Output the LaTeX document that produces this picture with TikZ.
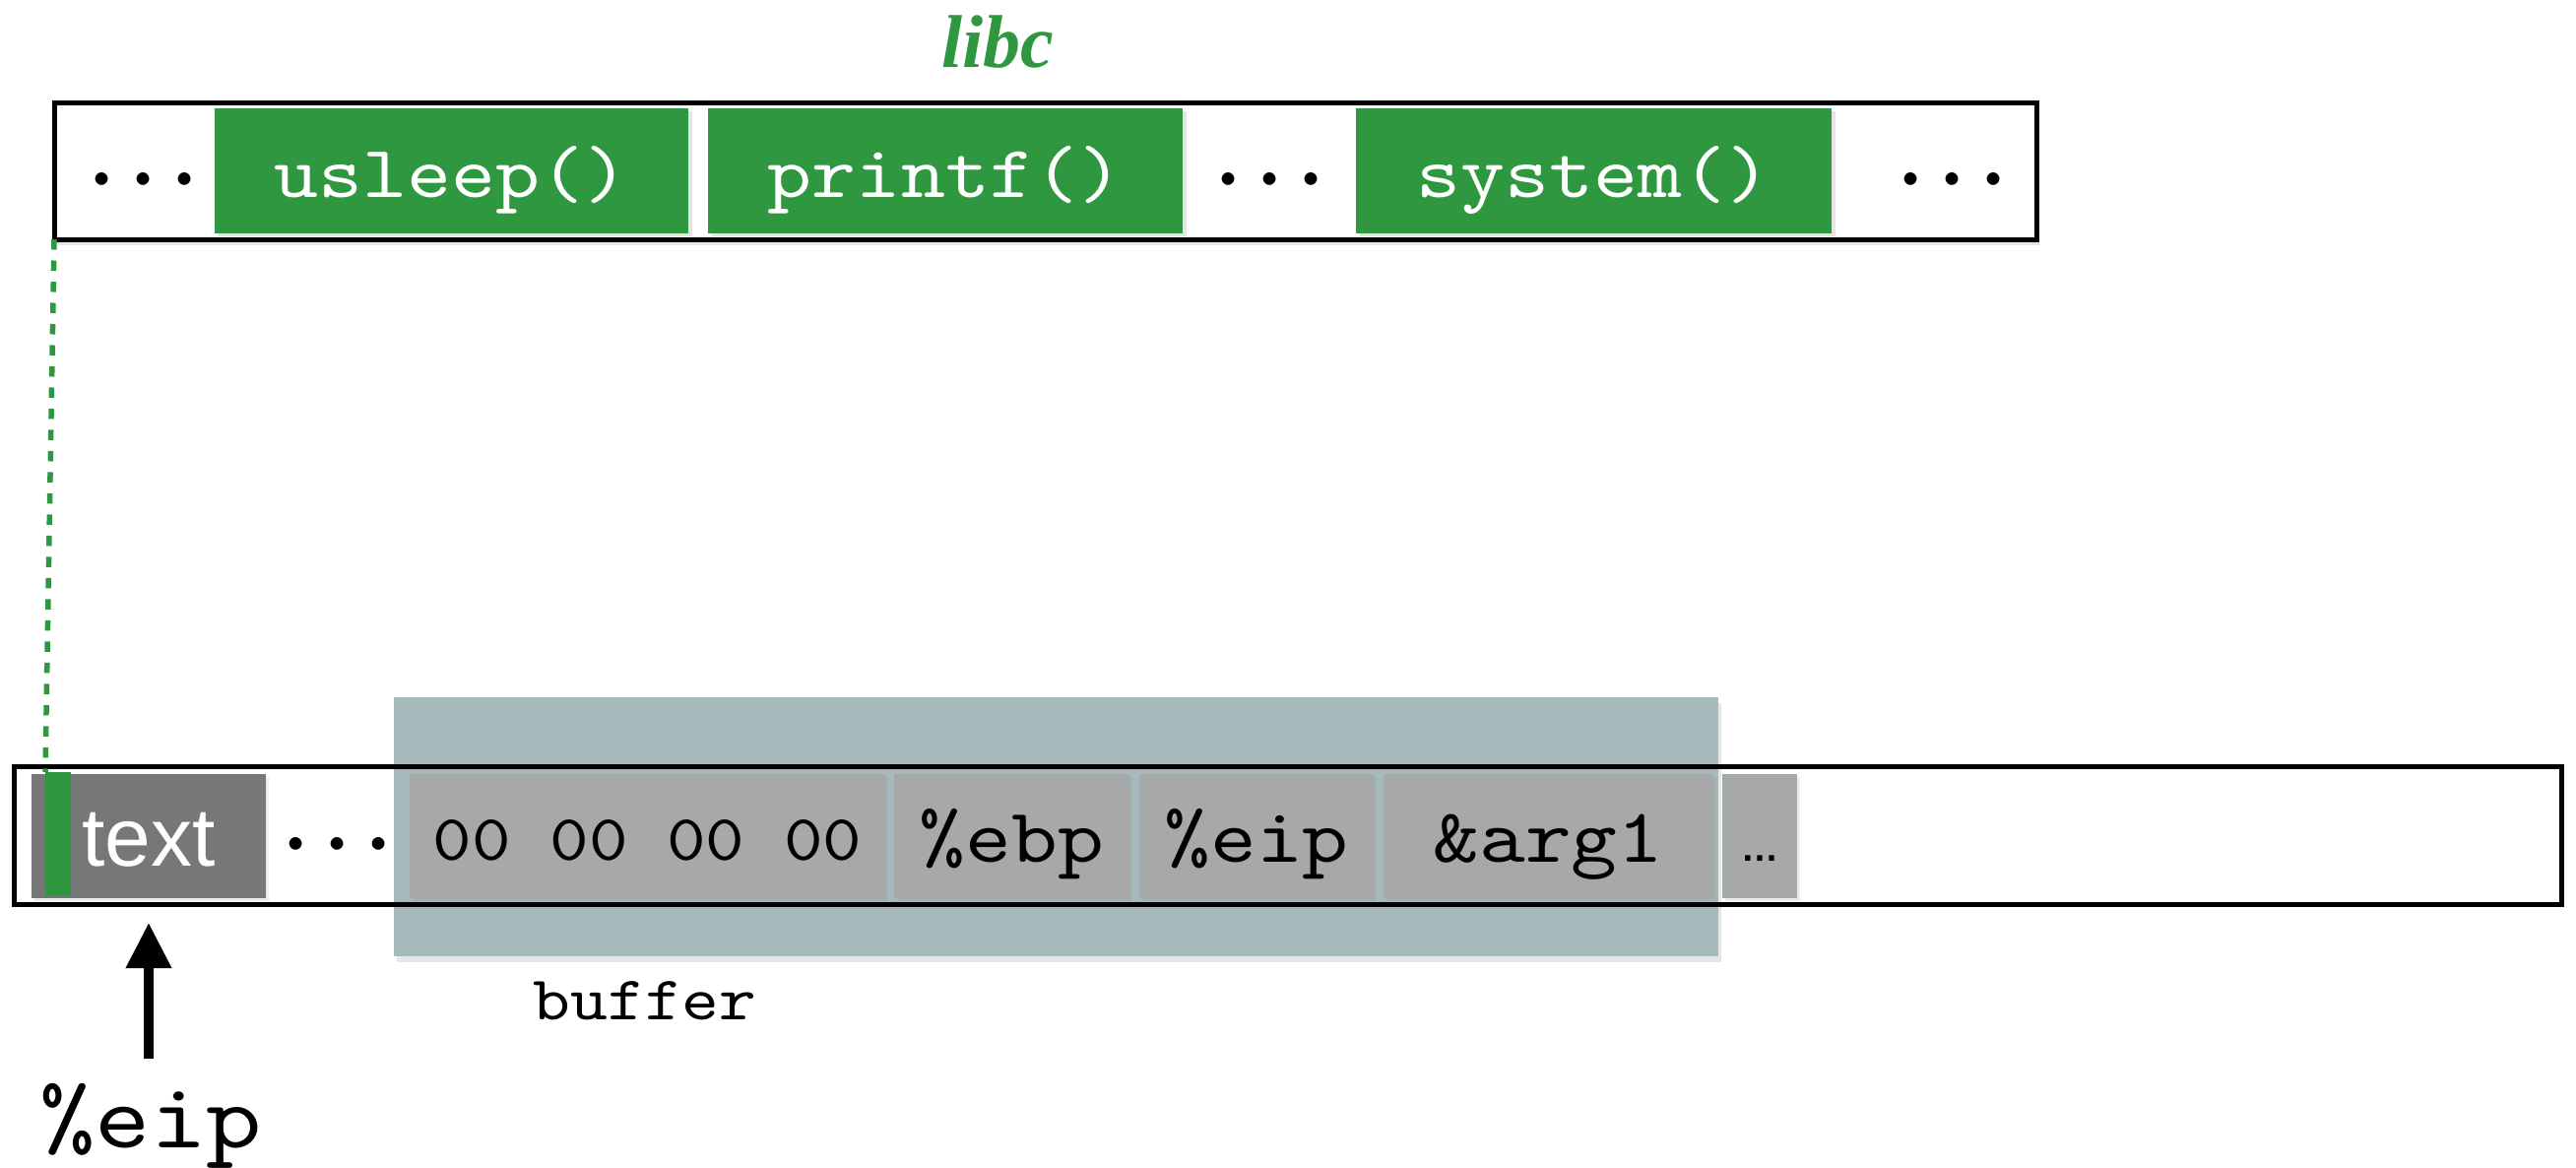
\documentclass[tikz,border=0pt]{standalone}
\usepackage{fontspec}
\usepackage{graphicx}
\setmainfont{Liberation Serif}
\newfontfamily\monof{lmmono10-regular.otf}[FakeStretch=1.143]
\newfontfamily\sansf{Liberation Sans}
\usetikzlibrary{arrows.meta,shadows}
\definecolor{libgreen}{RGB}{47,151,64}
\definecolor{tealbg}{RGB}{166,185,187}
\definecolor{darkcell}{RGB}{118,119,118}
\definecolor{lightcell}{RGB}{167,169,168}
\newcommand{\bigdots}{\scalebox{3.3}{\fontsize{25}{25}\selectfont\boldmath$\cdots$}}
\begin{document}
\begin{tikzpicture}[x=1pt,y=-1pt,
  box/.style={draw=black,line width=5pt,inner sep=0pt,outer sep=0pt},
  fcell/.style={fill=libgreen,text=white,inner sep=0pt,outer sep=0pt,
    minimum height=127pt,text height=53pt,text depth=0pt,
    font=\monof\fontsize{75}{75}\selectfont,
    drop shadow={opacity=0.2,shadow xshift=4pt,shadow yshift=-3pt}},
  scell/.style={fill=lightcell,inner sep=0pt,outer sep=0pt,
    minimum height=126pt,text height=52pt,text depth=0pt,
    font=\monof\fontsize{78}{78}\selectfont,
    drop shadow={opacity=0.15,shadow xshift=3pt,shadow yshift=-3pt}},
  dotsl/.style={anchor=base,inner sep=0pt},
  dashlink/.style={draw=libgreen,line width=5.5pt,dash pattern=on 10.5pt off 11pt},
  ptr/.style={draw=black,line width=10pt,-{Triangle[width=44pt,length=46pt]}}
]
\useasboundingbox (0,0) rectangle (2616,1186);

% ---- libc strip ----
\node[anchor=base,text=libgreen,inner sep=0pt,
  font=\fontsize{76}{76}\selectfont\bfseries\itshape] (libc) at (1013,68) {libc};
\node[box,fill=white,minimum width=2013pt,minimum height=139pt,
  drop shadow={opacity=0.2,shadow xshift=3pt,shadow yshift=-6pt}] (topbox) at (1061.5,173.5) {};
\node[dotsl] (tdots1) at (146,202.5) {\bigdots};
\node[fcell,minimum width=481pt] (usleep) at (458.5,173.5) {usleep()};
\node[fcell,minimum width=482pt] (printf) at (960,173.5) {printf()};
\node[dotsl] (tdots2) at (1290,202.5) {\bigdots};
\node[fcell,minimum width=483pt] (system) at (1618.5,173.5) {system()};
\node[dotsl] (tdots3) at (1983,202.5) {\bigdots};

% ---- stack ----
\node[fill=tealbg,inner sep=0pt,outer sep=0pt,minimum width=1345pt,minimum height=263pt,
  drop shadow={opacity=0.2,shadow xshift=3pt,shadow yshift=-6pt}] (bufbg) at (1072.5,839.5) {};
\node[box,minimum width=2587pt,minimum height=140pt] (stack) at (1307.5,848) {};
\node[scell,fill=darkcell,text=white,minimum width=238pt,text height=60pt,
  font=\sansf\fontsize{84}{84}\selectfont] (textcell) at (151,849) {text};
\node[fill=libgreen,inner sep=0pt,outer sep=0pt,minimum width=26pt,minimum height=126pt] (stripe) at (59,847) {};
\node[dotsl] (bdots) at (343,877.5) {\bigdots};
\node[scell,minimum width=483pt,text height=48pt,
  font=\monof\fontsize{66}{66}\selectfont] (zeros) at (657.5,849) {00 00 00 00};
\node[scell,minimum width=239pt] (ebp) at (1027.5,849) {\%ebp};
\node[scell,minimum width=238pt] (eipcell) at (1276,849) {\%eip};
\node[scell,minimum width=335pt] (arg) at (1572.5,849) {\&arg1};
\node[scell,minimum width=76pt,text height=50pt,
  font=\sansf\bfseries\fontsize{38}{38}\selectfont] (more) at (1787,849) {…};

\node[anchor=base,inner sep=0pt,font=\monof\fontsize{63}{63}\selectfont] (buflbl) at (655,1035) {buffer};
\node[anchor=base,inner sep=0pt,font=\monof\fontsize{94}{94}\selectfont] (eiplbl) at (153,1165) {\%eip};

% ---- connectors ----
\draw[dashlink] (topbox.south west) -- (stripe.north west);
\draw[ptr,shorten <=25pt,shorten >=25pt] (textcell.south |- eiplbl.north) -- (textcell.south);
\end{tikzpicture}
\end{document}
